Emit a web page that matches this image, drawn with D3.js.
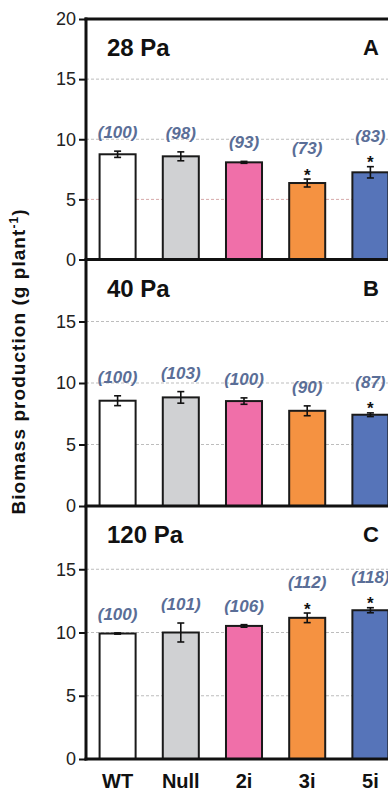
<!DOCTYPE html>
<html>
<head>
<meta charset="utf-8">
<script src="https://cdn.jsdelivr.net/npm/d3@7/dist/d3.min.js"></script>
<style>
  html, body { margin: 0; padding: 0; background: #fff; }
  svg { display: block; }
  text { font-family: "Liberation Sans", Arial, Helvetica, sans-serif; }
</style>
</head>
<body>
<svg id="chart" width="388" height="791"></svg>
<script>
// ---- data ----
const categories = ["WT", "Null", "2i", "3i", "5i"];
const panelTitles = ["28 Pa", "40 Pa", "120 Pa"];
const panelLetters = ["A", "B", "C"];
const yTicks = [0, 5, 10, 15, 20];

const means28 = [8.75, 8.58, 8.08, 6.36, 7.25];
const errs28 = [0.26, 0.37, 0.08, 0.33, 0.47];
const pct28 = ["(100)", "(98)", "(93)", "(73)", "(83)"];
const sig28 = [false, false, false, true, true];

const means40 = [8.56, 8.83, 8.53, 7.74, 7.42];
const errs40 = [0.40, 0.47, 0.26, 0.40, 0.15];
const pct40 = ["(100)", "(103)", "(100)", "(90)", "(87)"];
const sig40 = [false, false, false, false, true];

const means120 = [9.92, 10.0, 10.52, 11.16, 11.76];
const errs120 = [0.05, 0.75, 0.10, 0.38, 0.20];
const pct120 = ["(100)", "(101)", "(106)", "(112)", "(118)"];
const sig120 = [false, false, false, true, true];

const barColors = ["#ffffff", "#d0d1d3", "#f06fa9", "#f59241", "#5674b9"];

// ---- layout ----
const svg = d3.select("#chart");
const xLeft = 86, xRight = 402;
const panelRanges = [[259.5, 19], [506, 260], [759, 506]];
const panelData = [
  { m: means28, e: errs28, p: pct28, s: sig28 },
  { m: means40, e: errs40, p: pct40, s: sig40 },
  { m: means120, e: errs120, p: pct120, s: sig120 }
];

const x = d3.scaleBand().domain(categories).range([xLeft, xRight])
  .paddingInner(0.43).paddingOuter(0.215);

panelData.forEach((pd, pi) => {
  const [y0, y1] = panelRanges[pi];
  const y = d3.scaleLinear().domain([0, 20]).range([y0, y1]);
  const g = svg.append("g");

  // gridlines
  g.selectAll("line.grid").data([5, 10, 15]).join("line")
    .attr("x1", xLeft).attr("x2", xRight)
    .attr("y1", d => y(d)).attr("y2", d => y(d))
    .attr("stroke", d => (pi === 0 && d === 5) ? "#d6a9a9" : "#bdbdbd")
    .attr("stroke-width", 1)
    .attr("stroke-dasharray", "3,2");

  // bars
  const rows = categories.map((c, i) => ({ c, i, m: pd.m[i], e: pd.e[i], p: pd.p[i], s: pd.s[i] }));
  g.selectAll("rect.bar").data(rows).join("rect")
    .attr("x", d => x(d.c))
    .attr("width", x.bandwidth())
    .attr("y", d => y(d.m))
    .attr("height", d => y(0) - y(d.m))
    .attr("fill", d => barColors[d.i])
    .attr("stroke", "#1a1a1a")
    .attr("stroke-width", 2);

  // error bars
  const eb = g.selectAll("g.err").data(rows).join("g");
  eb.append("line")
    .attr("x1", d => x(d.c) + x.bandwidth() / 2).attr("x2", d => x(d.c) + x.bandwidth() / 2)
    .attr("y1", d => y(d.m - d.e)).attr("y2", d => y(d.m + d.e))
    .attr("stroke", "#111").attr("stroke-width", 1.6);
  eb.selectAll("line.cap").data(d => [d.m - d.e, d.m + d.e].map(v => ({ v, c: d.c }))).join("line")
    .attr("x1", d => x(d.c) + x.bandwidth() / 2 - 3.5).attr("x2", d => x(d.c) + x.bandwidth() / 2 + 3.5)
    .attr("y1", d => y(d.v)).attr("y2", d => y(d.v))
    .attr("stroke", "#111").attr("stroke-width", 1.6);

  // significance stars
  g.selectAll("text.star").data(rows.filter(d => d.s)).join("text")
    .attr("x", d => x(d.c) + x.bandwidth() / 2)
    .attr("y", d => y(d.m + d.e) + 1.5)
    .attr("text-anchor", "middle")
    .attr("font-size", 17).attr("font-weight", "bold").attr("fill", "#111")
    .text("*");

  // percentage labels
  g.selectAll("text.pct").data(rows).join("text")
    .attr("x", d => x(d.c) + x.bandwidth() / 2)
    .attr("y", d => y(d.m + d.e) - (d.s ? 25 : 13))
    .attr("text-anchor", "middle")
    .attr("font-size", 17).attr("font-weight", "bold").attr("font-style", "italic")
    .attr("fill", "#5a6e97")
    .text(d => d.p);

  // y axis ticks
  const ticks = pi === 0 ? yTicks : yTicks.filter(t => t < 20);
  const ax = d3.axisLeft(y).tickValues(ticks).tickSize(7).tickPadding(3).tickFormat(d3.format("d"));
  const axg = g.append("g").attr("transform", `translate(${xLeft},0)`).call(ax);
  axg.select(".domain").remove();
  axg.selectAll(".tick line").attr("stroke", "#111").attr("stroke-width", 2);
  axg.selectAll(".tick text").attr("font-size", 18).attr("fill", "#222")
    .attr("font-family", "'Liberation Sans', Arial, sans-serif");

  // panel bottom line (x axis)
  g.append("line").attr("x1", xLeft - 1.5).attr("x2", xRight)
    .attr("y1", y(0)).attr("y2", y(0)).attr("stroke", "#111").attr("stroke-width", 3);
  if (pi === 0) {
    g.append("line").attr("x1", xLeft - 1.5).attr("x2", xRight)
      .attr("y1", y(20)).attr("y2", y(20)).attr("stroke", "#111").attr("stroke-width", 3);
  }

  // titles
  g.append("text").attr("x", 107).attr("y", y(20) + 37)
    .attr("font-size", 24).attr("font-weight", "bold").attr("fill", "#111")
    .text(panelTitles[pi]);
  g.append("text").attr("x", 379).attr("y", y(20) + 36)
    .attr("text-anchor", "end")
    .attr("font-size", 22).attr("font-weight", "bold").attr("fill", "#111")
    .text(panelLetters[pi]);
});

// left axis line
svg.append("line").attr("x1", xLeft).attr("x2", xLeft)
  .attr("y1", 17.5).attr("y2", 760.5).attr("stroke", "#111").attr("stroke-width", 3);

// x category labels
svg.selectAll("text.cat").data(categories).join("text")
  .attr("x", d => x(d) + x.bandwidth() / 2)
  .attr("y", 788)
  .attr("text-anchor", "middle")
  .attr("font-size", 20).attr("font-weight", "bold").attr("fill", "#111")
  .text(d => d);

// y axis title
const yt = svg.append("text")
  .attr("transform", "translate(25,362) rotate(-90)")
  .attr("text-anchor", "middle")
  .attr("font-size", 19).attr("font-weight", "bold").attr("fill", "#111")
  .attr("textLength", 305).attr("lengthAdjust", "spacing");
yt.append("tspan").text("Biomass production (g plant");
yt.append("tspan").attr("font-size", 12).attr("dy", -7).text("-1");
yt.append("tspan").attr("dy", 7).text(")");
</script>
</body>
</html>
